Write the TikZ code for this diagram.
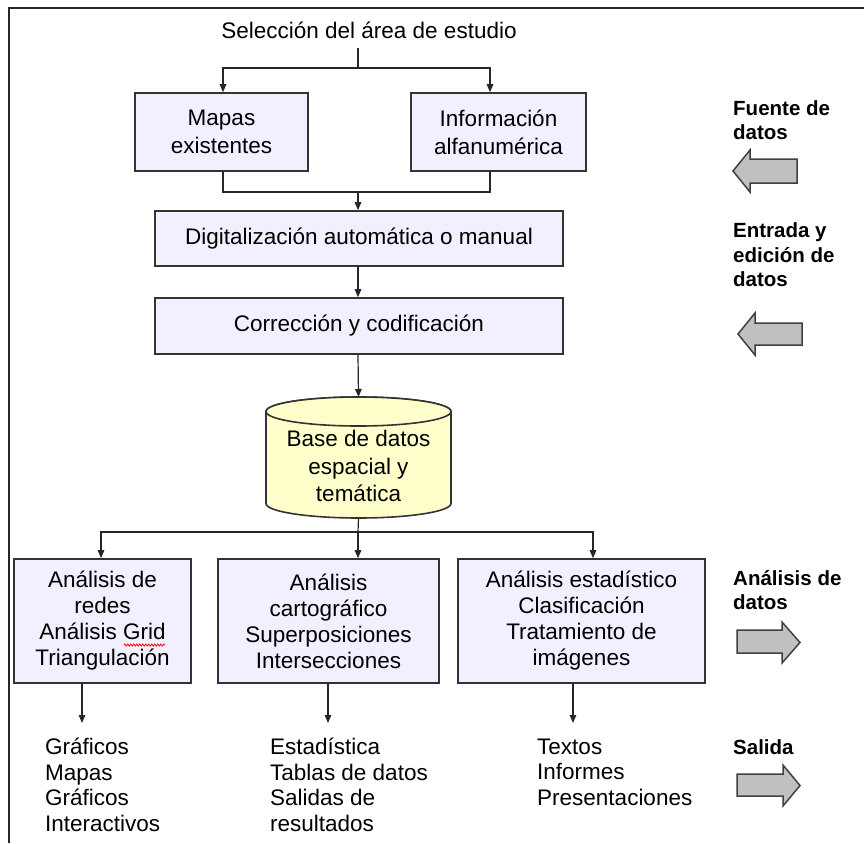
\documentclass[tikz,border=0pt]{standalone}
\usepackage{fontspec}
\setmainfont{Liberation Sans}
\usetikzlibrary{arrows.meta,calc,decorations.pathmorphing}
\definecolor{boxfill}{HTML}{F0F0FF}
\definecolor{dbfill}{HTML}{FFFFCC}
\definecolor{arrfill}{HTML}{C0C0C0}
\begin{document}
\begin{tikzpicture}[x=1pt,y=-1pt,
  every node/.style={font=\fontsize{22.5}{26}\selectfont, inner sep=0pt},
  procbox/.style={draw=black!80, line width=1.6pt, fill=boxfill, align=center},
  conn/.style={line width=1.2pt, draw=black!85},
  arr/.style={conn, -{Triangle[length=8pt,width=6.5pt]}},
  sidelabel/.style={font=\bfseries\fontsize{20.5}{24.5}\selectfont, align=left, anchor=west},
  outtext/.style={align=left, anchor=west, font=\fontsize{22.5}{25.5}\selectfont},
  blockarrow/.style={draw=black!75, line width=1.5pt, fill=arrfill, line join=miter}]
\useasboundingbox (0,0) rectangle (864,843);
\fill[white] (0,0) rectangle (864,843);
% frame
\draw[line width=2.5pt, black!85] (864,8) -- (9,8) -- (9,843);

% nodes
\node (title) at (369,30) {Selección del área de estudio};
\node[procbox, minimum width=173pt, minimum height=78pt, font=\fontsize{22.5}{28}\selectfont] (mapas) at (221.5,132) {Mapas\\existentes};
\node[procbox, minimum width=175pt, minimum height=78pt, font=\fontsize{22.5}{28}\selectfont] (info) at (498.5,132) {Información\\alfanumérica};
\node[procbox, minimum width=408pt, minimum height=55pt] (digit) at (359,238.5) {Digitalización automática o manual};
\node[procbox, minimum width=408pt, minimum height=56pt] (corr) at (359,326) {Corrección y codificación};

% database cylinder
\coordinate (dbtop) at (358.5,397);
\coordinate (dbbot) at (358.5,518);
\filldraw[fill=dbfill, draw=black!80, line width=1.6pt]
  (266,411.5) -- (266,503.5) arc[start angle=180, end angle=0, x radius=92.5, y radius=14.5]
  -- (451,411.5) arc[start angle=360, end angle=180, x radius=92.5, y radius=14.5] -- cycle;
\draw[fill=dbfill, draw=black!80, line width=1.6pt] (358.5,411.5) ellipse [x radius=92.5, y radius=14.5];
\node[align=center, font=\fontsize{22.5}{27.5}\selectfont] (db) at (358.5,466) {Base de datos\\espacial y\\temática};

\node[procbox, minimum width=177pt, minimum height=124pt] (b1) at (102.5,621) {Análisis de\\redes\\Análisis Grid\\Triangulación};
\node[procbox, minimum width=221pt, minimum height=124pt] (b2) at (328.5,621) {Análisis\\cartográfico\\Superposiciones\\Intersecciones};
\node[procbox, minimum width=247pt, minimum height=124pt] (b3) at (581.5,621) {Análisis estadístico\\Clasificación\\Tratamiento de\\imágenes};

\node[outtext] (o1) at (45,785) {Gráficos\\Mapas\\Gráficos\\Interactivos};
\node[outtext] (o2) at (270,785) {Estadística\\Tablas de datos\\Salidas de\\resultados};
\node[outtext] (o3) at (537,772) {Textos\\Informes\\Presentaciones};

% spell-check squiggle
\draw[red, line width=0.8pt, decorate, decoration={zigzag, segment length=3pt, amplitude=1pt}] (124,645) -- (165,645);

% connectors
\coordinate (stemtop) at (358,48);
\coordinate (split) at (358,68);
\coordinate (join) at (358,192);
\coordinate (split2) at (358,532);
\draw[conn] (stemtop) -- (split);
\draw[arr] (split) -| ([xshift=1.5pt]mapas.north);
\draw[arr] (split) -| ([xshift=-8.5pt]info.north);
\draw[conn] ([xshift=1.5pt]mapas.south) |- (join);
\draw[conn] ([xshift=-8.5pt]info.south) |- (join);
\draw[arr] (join) -- (digit.north -| join);
\draw[arr] (digit.south -| join) -- (corr.north -| join);
\draw[arr] (corr.south -| join) -- (dbtop);
\draw[conn] (dbbot) -- (split2);
\draw[arr] (split2) -| ([xshift=-1.5pt]b1.north);
\draw[arr] (split2) -- (b2.north -| split2);
\draw[arr] (split2) -| ([xshift=11.5pt]b3.north);

\coordinate (e1) at (82,723);
\coordinate (e2) at (328,723);
\coordinate (e3) at (573,723);
\draw[arr] (b1.south -| e1) -- (e1);
\draw[arr] (b2.south -| e2) -- (e2);
\draw[arr] (b3.south -| e3) -- (e3);

% side labels
\node[sidelabel] (l1) at (733,120) {Fuente de\\datos};
\node[sidelabel] (l2) at (733,255) {Entrada y\\edición de\\datos};
\node[sidelabel] (l3) at (733,590) {Análisis de\\datos};
\node[sidelabel] (l4) at (733,747) {Salida};

% block arrows
\draw[blockarrow] (733,171) -- (750,150) -- (750,159) -- (797,159) -- (797,183) -- (750,183) -- (750,192) -- cycle;
\draw[blockarrow] (738,334) -- (755,313) -- (755,323) -- (802,323) -- (802,345) -- (755,345) -- (755,355) -- cycle;
\draw[blockarrow] (800,642.5) -- (782,622) -- (782,630) -- (737,630) -- (737,653) -- (782,653) -- (782,663) -- cycle;
\draw[blockarrow] (800,785.5) -- (783,765) -- (783,774) -- (737,774) -- (737,796) -- (783,796) -- (783,806) -- cycle;
\end{tikzpicture}
\end{document}
